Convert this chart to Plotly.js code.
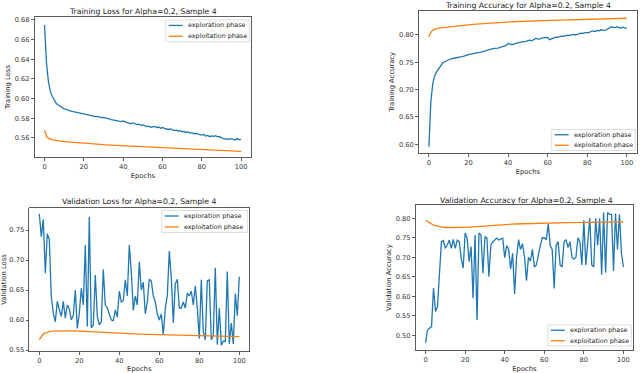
<!DOCTYPE html>
<html>
<head>
<meta charset="utf-8">
<script src="https://cdn.plot.ly/plotly-3.0.1.min.js"></script>
<style>html,body{margin:0;padding:0;background:#fff;}#chart{width:640px;height:373px;}</style>
</head>
<body>
<div id="chart"></div>
<script>
// ---- data ----
const epochs = Array.from({length: 101}, (_, i) => i);

const trainLossExplore = [
0.675,0.636,0.617,0.607,0.602,0.598,0.595,0.5935,0.592,0.591,
0.5895,0.589,0.588,0.5875,0.587,0.5865,0.586,0.5855,0.585,0.5843,
0.5838,0.5835,0.583,0.5826,0.5822,0.582,0.5816,0.5818,0.581,0.5805,
0.5808,0.58,0.5797,0.5792,0.5786,0.5782,0.5778,0.5775,0.577,0.5765,
0.5772,0.576,0.5755,0.575,0.5746,0.5752,0.574,0.5735,0.5738,0.5728,
0.5732,0.572,0.5715,0.5718,0.5708,0.5712,0.5716,0.5704,0.571,0.5698,
0.5705,0.5696,0.569,0.5685,0.569,0.5678,0.5674,0.5678,0.5668,0.5672,
0.5662,0.5666,0.5655,0.566,0.5648,0.5652,0.5642,0.5646,0.5635,0.5632,
0.5627,0.5634,0.5618,0.5624,0.5612,0.562,0.5615,0.5622,0.561,0.5614,
0.56,0.559,0.5587,0.559,0.5584,0.5592,0.5586,0.5578,0.5594,0.558,
0.5584];
const trainLossExploit = [
0.5678,0.5615,0.5595,0.5585,0.558,0.5577,0.5573,0.557,0.5567,0.5564,
0.5562,0.556,0.5558,0.5556,0.5554,0.5552,0.555,0.5548,0.5546,0.5545,
0.5543,0.5542,0.554,0.5539,0.5537,0.5536,0.5535,0.5533,0.5532,0.5531,
0.553,0.5529,0.5528,0.5527,0.5526,0.5525,0.5524,0.5523,0.5522,0.5521,
0.552,0.5519,0.5518,0.5517,0.5516,0.5515,0.5514,0.5513,0.5512,0.5511,
0.551,0.5509,0.5508,0.5507,0.5506,0.5505,0.5504,0.5503,0.5502,0.5501,
0.55,0.5499,0.5498,0.5497,0.5496,0.5495,0.5494,0.5494,0.5493,0.5492,
0.5491,0.549,0.5489,0.5488,0.5488,0.5487,0.5486,0.5485,0.5484,0.5484,
0.5483,0.5482,0.5481,0.548,0.5479,0.5478,0.5477,0.5476,0.5475,0.5474,
0.5472,0.5471,0.547,0.5469,0.5468,0.5468,0.5467,0.5466,0.5465,0.5464,
0.5463];

const trainAccExplore = [
0.5955,0.678,0.712,0.726,0.733,0.739,0.744,0.749,0.751,0.753,
0.755,0.756,0.757,0.758,0.7585,0.759,0.76,0.7605,0.762,0.763,
0.764,0.765,0.7655,0.766,0.767,0.7678,0.768,0.769,0.7705,0.7712,
0.772,0.773,0.7745,0.7755,0.7755,0.776,0.7775,0.778,0.7795,0.7808,
0.7845,0.7835,0.7822,0.7838,0.785,0.7862,0.786,0.7872,0.788,0.7878,
0.7895,0.7905,0.7895,0.7918,0.7935,0.793,0.7925,0.7942,0.7948,0.7945,
0.7955,0.7915,0.7935,0.7948,0.7962,0.7958,0.7972,0.798,0.7976,0.799,
0.7998,0.7992,0.8005,0.8012,0.8,0.8018,0.8025,0.8032,0.8028,0.8042,
0.805,0.8045,0.8068,0.8075,0.8062,0.8082,0.8078,0.8095,0.8088,0.8085,
0.81,0.8125,0.8148,0.8145,0.8132,0.815,0.8138,0.8122,0.8142,0.8125,
0.8118];
const trainAccExploit = [
0.797,0.805,0.809,0.811,0.8118,0.8125,0.813,0.8135,0.814,0.8145,
0.815,0.8154,0.8158,0.8162,0.8166,0.817,0.8174,0.8178,0.8182,0.8185,
0.8188,0.8191,0.8194,0.8197,0.82,0.8203,0.8206,0.8209,0.8212,0.8215,
0.8218,0.822,0.8222,0.8224,0.8226,0.8228,0.823,0.8232,0.8234,0.8236,
0.8238,0.824,0.8242,0.8244,0.8245,0.8247,0.8248,0.825,0.8251,0.8252,
0.8254,0.8255,0.8256,0.8258,0.8259,0.826,0.8261,0.8262,0.8264,0.8265,
0.8266,0.8267,0.8268,0.8269,0.827,0.8271,0.8272,0.8273,0.8274,0.8275,
0.8276,0.8277,0.8278,0.8279,0.828,0.8281,0.8282,0.8283,0.8284,0.8285,
0.8286,0.8287,0.8288,0.8289,0.829,0.8291,0.8292,0.8293,0.8294,0.8295,
0.8296,0.8297,0.8298,0.8299,0.83,0.8301,0.8302,0.8303,0.8304,0.8305,
0.8306];

const valLossExplore = [
0.777,0.739,0.768,0.678,0.744,0.734,0.639,0.611,0.597,0.631,
0.617,0.606,0.631,0.603,0.625,0.619,0.6,0.608,0.65,0.586,
0.611,0.653,0.625,0.725,0.589,0.772,0.587,0.592,0.675,0.606,
0.592,0.597,0.684,0.625,0.62,0.61,0.6,0.599,0.617,0.605,
0.648,0.63,0.632,0.667,0.64,0.725,0.68,0.616,0.64,0.625,
0.697,0.65,0.663,0.61,0.63,0.668,0.665,0.64,0.63,0.61,
0.6,0.61,0.575,0.62,0.64,0.715,0.67,0.595,0.66,0.668,
0.62,0.62,0.63,0.62,0.645,0.64,0.648,0.625,0.657,0.62,
0.569,0.667,0.58,0.567,0.665,0.667,0.567,0.575,0.687,0.559,
0.62,0.558,0.565,0.564,0.681,0.56,0.595,0.56,0.644,0.607,
0.672];
const valLossExploit = [
0.5675,0.573,0.5765,0.5785,0.5798,0.5806,0.5811,0.5814,0.5816,0.5818,
0.5819,0.582,0.582,0.582,0.582,0.582,0.5819,0.5819,0.5818,0.5817,
0.5816,0.5814,0.5812,0.581,0.5808,0.5806,0.5804,0.5802,0.58,0.5798,
0.5796,0.5794,0.5792,0.579,0.5789,0.5787,0.5785,0.5784,0.5782,0.578,
0.5778,0.5777,0.5775,0.5774,0.5772,0.5771,0.577,0.5768,0.5767,0.5766,
0.5765,0.5764,0.5763,0.5762,0.5761,0.576,0.5759,0.5758,0.5757,0.5756,
0.5756,0.5755,0.5754,0.5753,0.5752,0.5751,0.575,0.5749,0.5748,0.5747,
0.5746,0.5745,0.5744,0.5743,0.5742,0.5741,0.574,0.5739,0.5738,0.5737,
0.5734,0.5733,0.5732,0.5731,0.573,0.5729,0.5728,0.5728,0.5727,0.5726,
0.5726,0.5725,0.5725,0.5724,0.5724,0.5723,0.5723,0.5722,0.5722,0.5722,
0.5722];

const valAccExplore = [
0.481,0.514,0.518,0.522,0.621,0.561,0.573,0.668,0.74,0.743,
0.723,0.732,0.744,0.723,0.746,0.723,0.744,0.74,0.697,0.672,
0.762,0.749,0.689,0.727,0.595,0.757,0.539,0.762,0.757,0.659,
0.753,0.749,0.65,0.732,0.74,0.744,0.749,0.744,0.747,0.749,
0.699,0.73,0.72,0.67,0.71,0.606,0.7,0.745,0.72,0.735,
0.7,0.64,0.7,0.69,0.72,0.675,0.68,0.71,0.73,0.75,
0.75,0.745,0.785,0.73,0.72,0.62,0.73,0.74,0.68,0.675,
0.74,0.745,0.725,0.74,0.7,0.695,0.7,0.75,0.74,0.68,
0.795,0.68,0.74,0.8,0.68,0.675,0.8,0.73,0.8,0.655,
0.815,0.66,0.815,0.81,0.81,0.665,0.812,0.72,0.81,0.71,
0.675];
const valAccExploit = [
0.795,0.7915,0.788,0.7845,0.7825,0.781,0.7795,0.7782,0.7772,0.7766,
0.7763,0.7762,0.7761,0.776,0.776,0.776,0.776,0.776,0.7761,0.7762,
0.7765,0.7768,0.7772,0.7776,0.778,0.7785,0.779,0.7795,0.78,0.7805,
0.781,0.7813,0.7817,0.782,0.7824,0.7827,0.783,0.7833,0.7836,0.7839,
0.7842,0.7844,0.7846,0.7848,0.785,0.7852,0.7854,0.7856,0.7858,0.786,
0.7862,0.7864,0.7866,0.7868,0.7869,0.7871,0.7872,0.7874,0.7875,0.7877,
0.7878,0.7879,0.788,0.7881,0.7882,0.7883,0.7884,0.7885,0.7886,0.7887,
0.7888,0.7889,0.789,0.789,0.7891,0.7892,0.7892,0.7893,0.7894,0.7894,
0.7895,0.7896,0.7896,0.7897,0.7897,0.7898,0.7898,0.7899,0.7899,0.79,
0.79,0.7901,0.7901,0.7902,0.7902,0.7903,0.7903,0.7904,0.7904,0.7905,
0.7905];

const seriesNames = ['exploration phase', 'exploitation phase'];
const panelTitles = [
  'Training Loss for Alpha=0.2, Sample 4',
  'Training Accuracy for Alpha=0.2, Sample 4',
  'Validation Loss for Alpha=0.2, Sample 4',
  'Validation Accuracy for Alpha=0.2, Sample 4'
];
const yLabels = ['Training Loss', 'Training Accuracy', 'Validation Loss', 'Validation Accuracy'];
const xLabel = 'Epochs';

// ---- styling / layout ----
const W = 640, H = 373;
const COLORS = ['#1f77b4', '#ff7f0e'];
const FONT = 'DejaVu Sans, sans-serif';

// box: [left, right, top, bottom] in px; legend: [left, right, top, bottom] in px
const panels = [
  {explore: trainLossExplore, exploit: trainLossExploit, box: [34.7, 251, 17, 157], yr: [0.5405, 0.683], dt: 0.02,
   legend: [165.7, 249.3, 20, 41.7], title: {x: 143, y: 11}},
  {explore: trainAccExplore, exploit: trainAccExploit, box: [419, 636.7, 11, 152.7], yr: [0.5846, 0.8439], dt: 0.05,
   legend: [551.7, 635.3, 129.5, 150.5], title: {x: 528, y: 5}},
  {explore: valLossExplore, exploit: valLossExploit, box: [29.3, 249.3, 207.5, 351.5], yr: [0.5475, 0.7875], dt: 0.05,
   legend: [161.7, 247.7, 210.5, 232.5], title: {x: 139, y: 201.5}},
  {explore: valAccExplore, exploit: valAccExploit, box: [415.7, 633.3, 205, 350], yr: [0.462, 0.834], dt: 0.05,
   legend: [547.7, 631.3, 325, 346], title: {x: 526, y: 200}}
];

const px = v => v / W, py = v => 1 - v / H;

const traces = [];
const layout = {
  width: W, height: H,
  margin: {l: 0, r: 0, t: 0, b: 0},
  paper_bgcolor: '#fff', plot_bgcolor: '#fff',
  font: {family: FONT, color: '#222', size: 6.6},
  annotations: [], shapes: [],
  showlegend: false
};

panels.forEach((p, i) => {
  const n = i + 1;
  const xa = 'xaxis' + (n === 1 ? '' : n), ya = 'yaxis' + (n === 1 ? '' : n);
  const xr = 'x' + (n === 1 ? '' : n), yr = 'y' + (n === 1 ? '' : n);
  [p.explore, p.exploit].forEach((vals, k) => {
    traces.push({x: epochs, y: vals, type: 'scatter', mode: 'lines', name: seriesNames[k],
      line: {color: COLORS[k], width: 1.3}, xaxis: xr, yaxis: yr, showlegend: false});
  });
  const common = {showline: true, mirror: true, linecolor: '#333', linewidth: 0.8,
    ticks: 'outside', ticklen: 3, tickwidth: 0.8, tickcolor: '#333',
    showgrid: false, zeroline: false, tickfont: {size: 6.7, color: '#333', family: FONT}, fixedrange: true};
  layout[xa] = Object.assign({}, common, {
    domain: [px(p.box[0]), px(p.box[1])], range: [-5, 105], tick0: 0, dtick: 20,
    anchor: yr, title: {text: xLabel, font: {size: 6.8, color: '#222'}, standoff: 3}
  });
  layout[ya] = Object.assign({}, common, {
    domain: [py(p.box[3]), py(p.box[2])], range: p.yr, tick0: 0, dtick: p.dt, tickformat: '.2f',
    anchor: xr, title: {text: yLabels[i], font: {size: 6.8, color: '#222'}, standoff: 3}
  });
  layout.annotations.push({text: panelTitles[i], xref: 'paper', yref: 'paper',
    x: px(p.title.x), y: py(p.title.y), xanchor: 'center', yanchor: 'middle', showarrow: false,
    font: {size: 7.7, color: '#222', family: FONT}});

  // matplotlib-style legend box inside the panel
  const [l, r, t, b] = p.legend;
  layout.shapes.push({type: 'rect', xref: 'paper', yref: 'paper', x0: px(l), x1: px(r), y0: py(b), y1: py(t),
    line: {color: '#d4d4d4', width: 0.8}, fillcolor: 'rgba(255,255,255,0.85)', layer: 'above'});
  const rowH = (b - t) / 2;
  seriesNames.forEach((name, k) => {
    const yc = t + rowH * (k + 0.5);
    layout.shapes.push({type: 'line', xref: 'paper', yref: 'paper', x0: px(l + 3), x1: px(l + 17), y0: py(yc), y1: py(yc),
      line: {color: COLORS[k], width: 1.3}, layer: 'above'});
    layout.annotations.push({text: name, xref: 'paper', yref: 'paper', x: px(l + 20), y: py(yc),
      xanchor: 'left', yanchor: 'middle', showarrow: false, font: {size: 6.4, color: '#222', family: FONT}});
  });
});

Plotly.newPlot('chart', traces, layout, {staticPlot: true, displayModeBar: false});
</script>
</body>
</html>
